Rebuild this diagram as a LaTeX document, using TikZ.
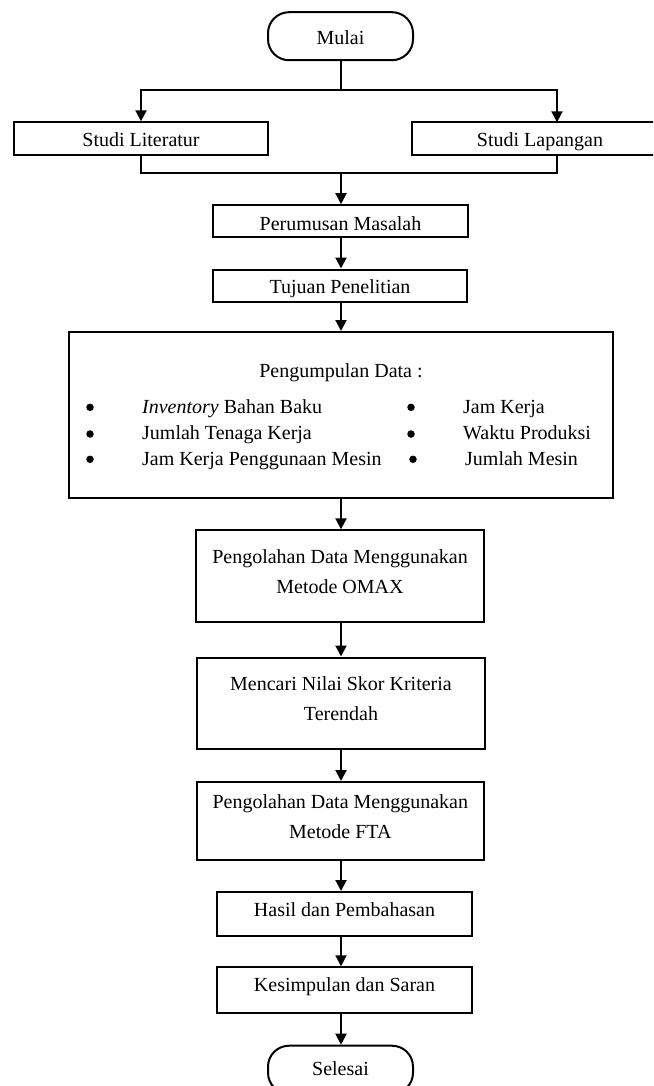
\documentclass[tikz,border=0pt]{standalone}
\usepackage{fontspec}
\setmainfont{Liberation Serif}
\usetikzlibrary{arrows.meta}
\newcommand{\lastdepth}{\rule[-9pt]{0pt}{9pt}}
\begin{document}
\begin{tikzpicture}[x=1pt,y=-1pt,
  every node/.style={font=\fontsize{20}{30}\selectfont},
  box/.style={draw,line width=2pt,inner sep=0pt,align=center,text height=16pt,text depth=0pt},
  mbox/.style={draw,line width=2pt,inner sep=0pt,align=center},
  term/.style={box,rounded corners=21pt},
  txt/.style={inner sep=0pt,anchor=base west},
  bul/.style={circle,fill,inner sep=0pt,minimum size=7.5pt},
  ln/.style={line width=2pt},
  arr/.style={ln,-{Triangle[width=11pt,length=11pt]}}]
\useasboundingbox (0,0) rectangle (653,1086);
\clip (0,0) rectangle (653,1086);
\node[term,minimum width=145pt,minimum height=48pt] (mulai) at (340.5,36.2) {Mulai};
\node[box,minimum width=254pt,minimum height=33pt] (lit) at (141,138.8) {Studi Literatur};
\node[box,minimum width=256pt,minimum height=33pt] (lap) at (540,138.8) {Studi Lapangan};
\node[box,minimum width=255pt,minimum height=32pt,text height=17.6pt] (rum) at (340.5,221.2) {Perumusan Masalah};
\node[box,minimum width=254pt,minimum height=32pt] (tuj) at (340,285.5) {Tujuan Penelitian};
\node[mbox,minimum width=544pt,minimum height=166pt] (data) at (341,415) {};
\node[inner sep=0pt,anchor=base] (dtitle) at (341,377.3) {Pengumpulan Data :};
\node[bul] (b1) at (90,407.3) {};
\node[bul] (b2) at (90,434) {};
\node[bul] (b3) at (90,459.3) {};
\node[bul] (b4) at (411,407.3) {};
\node[bul] (b5) at (411,434) {};
\node[bul] (b6) at (413,459.3) {};
\node[txt] (t1) at (142,413.3) {\textit{Inventory} Bahan Baku};
\node[txt] (t2) at (142,439) {Jumlah Tenaga Kerja};
\node[txt] (t3) at (142,465) {Jam Kerja Penggunaan Mesin};
\node[txt] (t4) at (463,413.3) {Jam Kerja};
\node[txt] (t5) at (463,439) {Waktu Produksi};
\node[txt] (t6) at (465,465) {Jumlah Mesin};
\node[mbox,minimum width=288pt,minimum height=92pt] (omax) at (340,576.3) {Pengolahan Data Menggunakan\\Metode OMAX\lastdepth};
\node[mbox,minimum width=288pt,minimum height=91pt] (cari) at (341,703) {Mencari Nilai Skor Kriteria\\Terendah\lastdepth};
\node[mbox,minimum width=287pt,minimum height=78pt] (fta) at (340.3,821) {Pengolahan Data Menggunakan\\Metode FTA\lastdepth};
\node[box,minimum width=255pt,minimum height=44pt,text height=13pt,text depth=8pt] (hasil) at (344.5,914) {Hasil dan Pembahasan};
\node[box,minimum width=255pt,minimum height=46pt,text height=13pt,text depth=10pt] (kes) at (344.5,990.3) {Kesimpulan dan Saran};
\node[term,minimum width=145pt,minimum height=48pt,text height=13pt,text depth=0.5pt] (sel) at (340.5,1069.7) {Selesai};
% connectors
\coordinate (ax) at (341,0);
\coordinate (fk) at (341,90);
\coordinate (lapin) at (557,122.3);
\coordinate (lapout) at (557,155.3);
\coordinate (jn) at (341,173);
\draw[ln] (mulai.south -| ax) -- (fk);
\draw[arr] (fk) -| (lit.north);
\draw[arr] (fk) -| (lapin);
\draw[ln] (lit.south) |- (jn);
\draw[ln] (lapout) |- (jn);
\draw[arr] (jn) -- (jn |- rum.north);
\draw[arr] (rum.south -| ax) -- (tuj.north -| ax);
\draw[arr] (tuj.south -| ax) -- (data.north -| ax);
\draw[arr] (data.south -| ax) -- (omax.north -| ax);
\draw[arr] (omax.south -| ax) -- (cari.north -| ax);
\draw[arr] (cari.south -| ax) -- (fta.north -| ax);
\draw[arr] (fta.south -| ax) -- (hasil.north -| ax);
\draw[arr] (hasil.south -| ax) -- (kes.north -| ax);
\draw[arr] (kes.south -| ax) -- (sel.north -| ax);
\end{tikzpicture}
\end{document}
